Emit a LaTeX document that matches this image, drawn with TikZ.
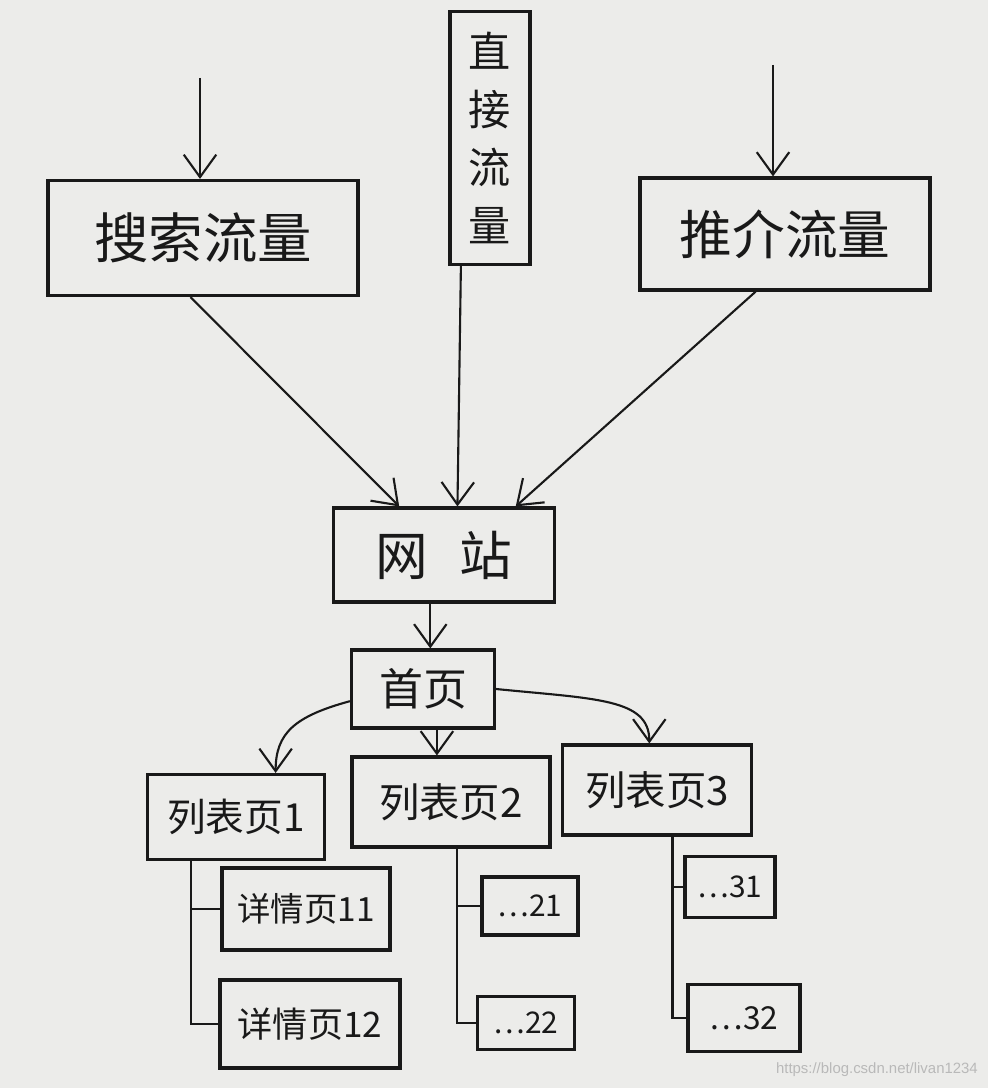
\documentclass[tikz,border=0pt]{standalone}
\usepackage{fontspec}
\newfontfamily\cjk{Noto Sans CJK SC}
\usetikzlibrary{arrows.meta,calc}
\definecolor{paper}{RGB}{236,236,234}
\definecolor{ink}{RGB}{25,25,25}
\tikzset{
  box/.style={draw=ink, line width=1.8pt, inner sep=0pt, anchor=center, font=\cjk, text=ink},
  conn/.style={draw=ink, line width=1.2pt},
  treeline/.style={draw=ink, line width=1.6pt},
  arr/.style={conn, -{Straight Barb[length=4.5mm,width=6.5mm,line width=1.2pt]}},
}
\begin{document}
\begin{tikzpicture}[x=0.02cm,y=-0.02cm]
\fill[paper] (0,0) rectangle (988,1088);
\useasboundingbox (0,0) rectangle (988,1088);

% top sources
\node[box, minimum width=6.2cm, minimum height=2.3cm, font=\cjk\fontsize{31}{34}\selectfont] (search) at (203,238) {搜索流量};
\node[box, minimum width=1.6cm, minimum height=5.06cm, align=center, font=\cjk\fontsize{24}{33}\selectfont] (direct) at (490,138) {直\\接\\流\\量};
\node[box, minimum width=5.8cm, minimum height=2.24cm, font=\cjk\fontsize{30}{34}\selectfont] (rec) at (785,234) {推介流量};

% site and home
\node[box, minimum width=4.42cm, minimum height=1.88cm, font=\cjk\fontsize{30}{34}\selectfont] (site) at (444,555) {网\hspace{0.6em}站};
\node[box, minimum width=2.86cm, minimum height=1.56cm, font=\cjk\fontsize{25}{28}\selectfont] (home) at (423,689) {首页};

% list pages
\node[box, minimum width=3.54cm, minimum height=1.7cm, font=\cjk\fontsize{22}{25}\selectfont] (list1) at (236,817) {列表页1};
\node[box, minimum width=3.96cm, minimum height=1.8cm, font=\cjk\fontsize{23}{26}\selectfont] (list2) at (451,802) {列表页2};
\node[box, minimum width=3.78cm, minimum height=1.8cm, font=\cjk\fontsize{23}{26}\selectfont] (list3) at (657,790) {列表页3};

% detail pages
\node[box, minimum width=3.36cm, minimum height=1.64cm, font=\cjk\fontsize{19}{22}\selectfont] (d11) at (306,909) {详情页11};
\node[box, minimum width=3.6cm, minimum height=1.76cm, font=\cjk\fontsize{20}{23}\selectfont] (d12) at (310,1024) {详情页12};
\node[box, minimum width=1.92cm, minimum height=1.16cm, font=\cjk\fontsize{17}{20}\selectfont] (d21) at (530,906) {…21};
\node[box, minimum width=1.94cm, minimum height=1.06cm, font=\cjk\fontsize{17}{20}\selectfont] (d22) at (526,1023) {…22};
\node[box, minimum width=1.8cm, minimum height=1.22cm, font=\cjk\fontsize{17}{20}\selectfont] (d31) at (730,887) {…31};
\node[box, minimum width=2.24cm, minimum height=1.34cm, font=\cjk\fontsize{18}{21}\selectfont] (d32) at (744,1018) {…32};

% incoming arrows
\coordinate (insearch) at (200,78);
\coordinate (inrec) at (773,65);
\draw[arr] (insearch) -- (insearch |- search.north);
\draw[arr] (inrec) -- (inrec |- rec.north);

% sources to site
\draw[arr] ($(search.south west)!0.46!(search.south east)$) -- ($(site.north west)!0.3!(site.north east)$);
\draw[arr] ($(direct.south west)!0.15!(direct.south east)$) -- ($(site.north west)!0.56!(site.north east)$);
\draw[arr] ($(rec.south west)!0.4!(rec.south east)$) -- ($(site.north west)!0.82!(site.north east)$);

% site to home
\coordinate (h) at ($(home.north west)!0.55!(home.north east)$);
\draw[arr] (h |- site.south) -- (h);

% home to lists
\coordinate (l1) at ($(list1.north west)!0.72!(list1.north east)$);
\coordinate (l2) at ($(list2.north west)!0.43!(list2.north east)$);
\coordinate (l3) at ($(list3.north west)!0.46!(list3.north east)$);
\draw[arr] ($(home.north west)!0.65!(home.south west)$) .. controls +(-55,15) and +(0,-40) .. (l1);
\draw[arr] (l2 |- home.south) -- (l2);
\draw[arr] ($(home.north east)!0.5!(home.south east)$) .. controls +(100,10) and +(0,-45) .. (l3);

% trees
\coordinate (t1) at ($(list1.south west)!0.25!(list1.south east)$);
\coordinate (t2) at ($(list2.south west)!0.53!(list2.south east)$);
\coordinate (t3) at ($(list3.south west)!0.58!(list3.south east)$);
\draw[treeline] (t1) |- (d12.west);
\draw[treeline] (t1 |- d11.west) -- (d11.west);
\draw[treeline] (t2) |- (d22.west);
\draw[treeline] (t2 |- d21.west) -- (d21.west);
\draw[treeline] (t3) |- (d32.west);
\draw[treeline] (t3 |- d31.west) -- (d31.west);

% watermark
\node[anchor=east, font=\fontspec{Liberation Sans}\fontsize{8.5}{10}\selectfont, text=gray!55] (wm) at (984,1070) {https://blog.csdn.net/livan1234};
\end{tikzpicture}
\end{document}
